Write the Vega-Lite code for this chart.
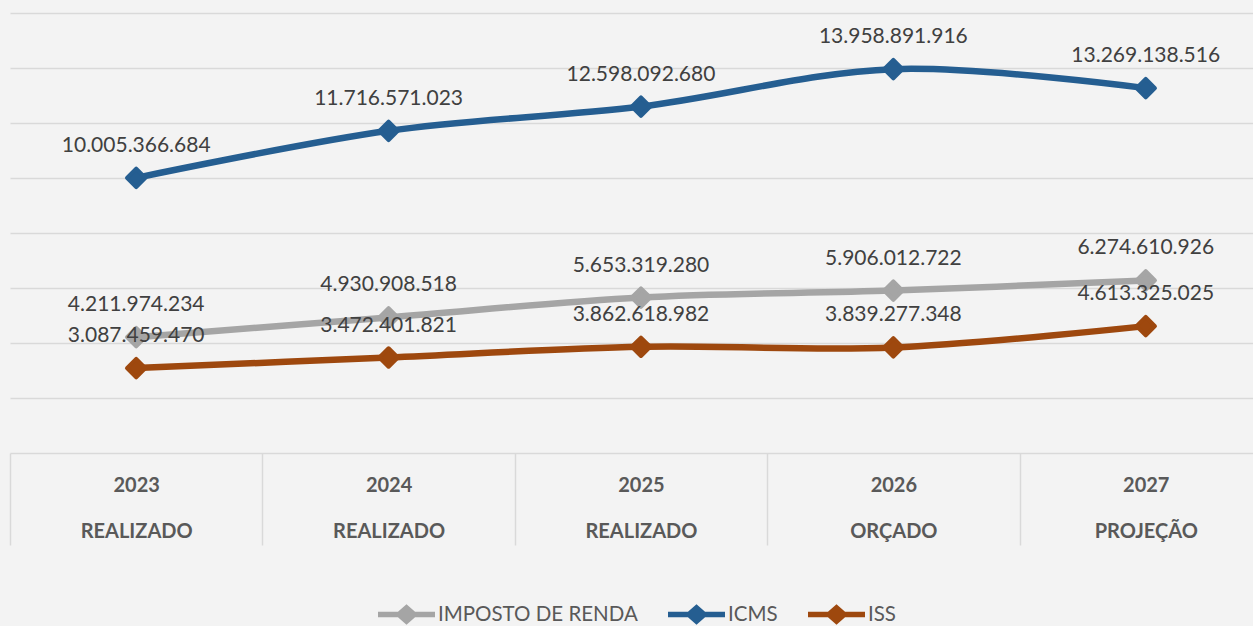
{
  "$schema": "https://vega.github.io/schema/vega-lite/v6.json",
  "width": 1243,
  "height": 440,
  "autosize": {"type": "none"},
  "padding": {"left": 10, "top": 13, "right": 0, "bottom": 173},
  "background": "#f3f3f3",
  "config": {
    "view": {"stroke": null},
    "font": "Lato",
    "locale": {"number": {"decimal": ",", "thousands": ".", "grouping": [3], "currency": ["R$", ""]}}
  },
  "data": {
    "values": [
      {"idx": 0, "serie": "IMPOSTO DE RENDA", "value": 4211974234},
      {"idx": 1, "serie": "IMPOSTO DE RENDA", "value": 4930908518},
      {"idx": 2, "serie": "IMPOSTO DE RENDA", "value": 5653319280},
      {"idx": 3, "serie": "IMPOSTO DE RENDA", "value": 5906012722},
      {"idx": 4, "serie": "IMPOSTO DE RENDA", "value": 6274610926},
      {"idx": 0, "serie": "ICMS", "value": 10005366684},
      {"idx": 1, "serie": "ICMS", "value": 11716571023},
      {"idx": 2, "serie": "ICMS", "value": 12598092680},
      {"idx": 3, "serie": "ICMS", "value": 13958891916},
      {"idx": 4, "serie": "ICMS", "value": 13269138516},
      {"idx": 0, "serie": "ISS", "value": 3087459470},
      {"idx": 1, "serie": "ISS", "value": 3472401821},
      {"idx": 2, "serie": "ISS", "value": 3862618982},
      {"idx": 3, "serie": "ISS", "value": 3839277348},
      {"idx": 4, "serie": "ISS", "value": 4613325025}
    ]
  },
  "encoding": {
    "x": {
      "field": "idx", "type": "quantitative",
      "scale": {"domain": [-0.5, 4.425], "nice": false, "zero": false},
      "axis": {
        "title": null,
        "values": [-0.5, 0, 0.5, 1, 1.5, 2, 2.5, 3, 3.5, 4],
        "labelExpr": "datum.value % 1 !== 0 ? '' : [['2023','REALIZADO'],['2024','REALIZADO'],['2025','REALIZADO'],['2026','ORÇADO'],['2027','PROJEÇÃO']][datum.value]",
        "grid": false,
        "domainColor": "#d9d9d9", "domainWidth": 1.5,
        "tickColor": "#d9d9d9", "tickWidth": 1.5, "tickSize": 92,
        "tickOpacity": {"condition": {"test": "datum.value % 1 !== 0", "value": 1}, "value": 0},
        "labelPadding": -70,
        "labelBaseline": "top",
        "labelLineHeight": 46,
        "labelFont": "Lato", "labelFontSize": 20, "labelFontWeight": "bold", "labelColor": "#595959",
        "labelOverlap": false, "labelBound": false, "labelFlush": false
      }
    },
    "y": {
      "field": "value", "type": "quantitative",
      "scale": {"domain": [0, 16000000000], "nice": false},
      "axis": {
        "title": null, "labels": false, "ticks": false, "domain": false,
        "values": [2000000000, 4000000000, 6000000000, 8000000000, 10000000000, 12000000000, 14000000000, 16000000000],
        "grid": true, "gridColor": "#d9d9d9", "gridWidth": 1.5
      }
    }
  },
  "layer": [
    {
      "mark": {"type": "line", "interpolate": "cardinal", "strokeWidth": 6.5, "strokeCap": "round"},
      "encoding": {
        "color": {
          "field": "serie", "type": "nominal",
          "scale": {"domain": ["IMPOSTO DE RENDA", "ICMS", "ISS"], "range": ["#a5a5a5", "#255e91", "#9e480e"]},
          "legend": {
            "title": null, "orient": "none", "direction": "horizontal",
            "legendX": 368, "legendY": 573,
            "symbolType": "M-1,-0.1L-0.3,-0.1L0,-0.36L0.3,-0.1L1,-0.1L1,0.1L0.3,0.1L0,0.36L-0.3,0.1L-1,0.1Z",
            "symbolSize": 3249, "symbolStrokeWidth": 0,
            "labelFont": "Lato", "labelFontSize": 20.5, "labelColor": "#595959",
            "labelOffset": 3, "columnPadding": 30, "labelLimit": 400
          }
        }
      }
    },
    {
      "mark": {"type": "point", "shape": "diamond", "filled": true, "size": 340, "strokeWidth": 4, "strokeJoin": "round", "opacity": 1},
      "encoding": {
        "color": {"field": "serie", "type": "nominal"},
        "stroke": {"field": "serie", "type": "nominal", "scale": {"domain": ["IMPOSTO DE RENDA", "ICMS", "ISS"], "range": ["#a5a5a5", "#255e91", "#9e480e"]}, "legend": null}
      }
    },
    {
      "mark": {"type": "text", "dy": -32, "fontSize": 21, "font": "Lato", "color": "#404040", "baseline": "middle"},
      "encoding": {
        "text": {"field": "value", "type": "quantitative", "format": ",d"}
      }
    }
  ]
}
